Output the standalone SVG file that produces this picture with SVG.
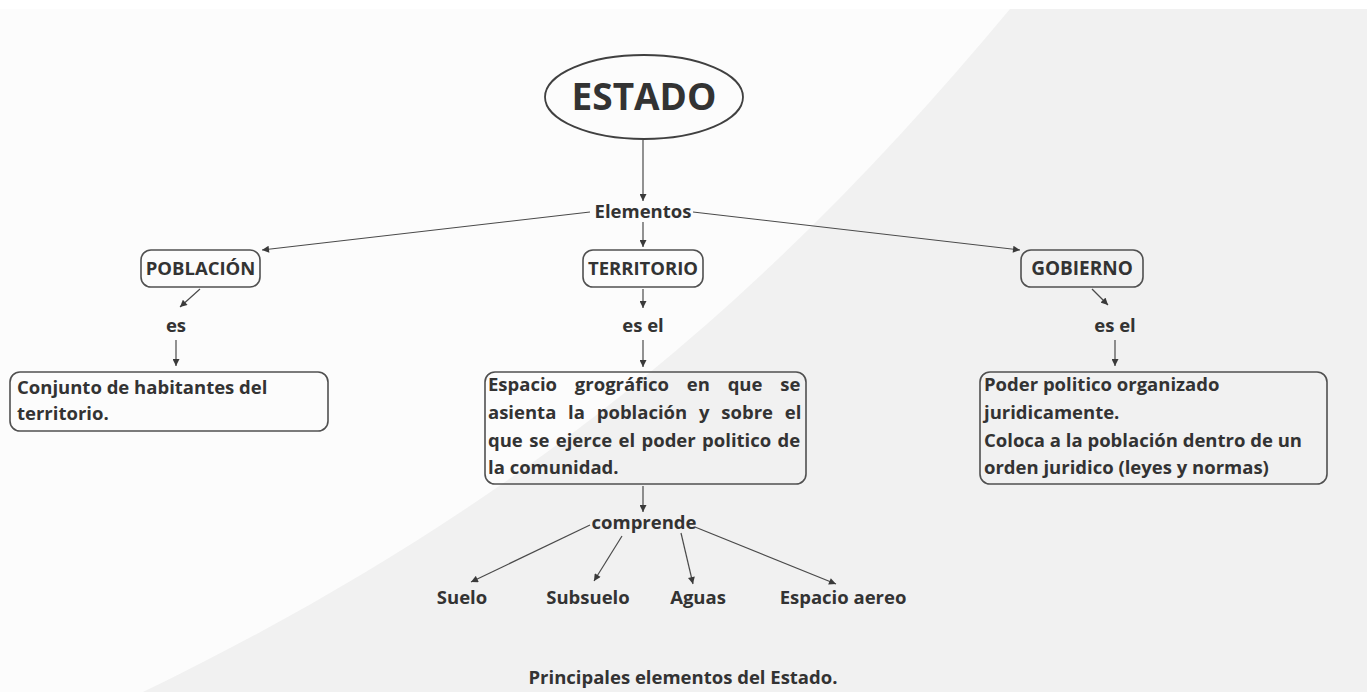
<svg xmlns="http://www.w3.org/2000/svg" width="1367" height="692" viewBox="0 0 1367 692">
<style>
.t{font-family:"Open Sans","Liberation Sans",sans-serif;font-weight:700;fill:#333}
.c{text-anchor:middle}
.lb{font-size:18.5px}
.bx{font-size:18.5px}
.box{fill:none;stroke:#505050;stroke-width:1.6}
.ln{fill:none;stroke:#4a4a4a;stroke-width:1.2;marker-end:url(#ah)}
</style>
<defs>
<marker id="ah" viewBox="0 0 10 10" refX="10" refY="5" markerWidth="8" markerHeight="7" markerUnits="userSpaceOnUse" orient="auto">
<path d="M0,0 L10,5 L0,10 z" fill="#3a3a3a"/>
</marker>
</defs>
<rect width="1367" height="692" fill="#f1f1f1"/>
<path d="M0,9 L1010,9 C800,260 560,490 143,692 L0,692 z" fill="#fcfcfc"/>
<rect width="1367" height="9" fill="#ffffff"/>

<g id="connectors">
<line class="ln" x1="643" y1="140" x2="643" y2="201"/>
<line class="ln" x1="590" y1="212" x2="262" y2="250"/>
<line class="ln" x1="643" y1="222" x2="643" y2="247"/>
<line class="ln" x1="693" y1="212" x2="1020" y2="250"/>
<line class="ln" x1="200" y1="289" x2="180" y2="307"/>
<line class="ln" x1="176" y1="340" x2="176" y2="366"/>
<line class="ln" x1="643" y1="289" x2="643" y2="308"/>
<line class="ln" x1="643" y1="340" x2="643" y2="367"/>
<line class="ln" x1="1092" y1="289" x2="1108" y2="305"/>
<line class="ln" x1="1115" y1="340" x2="1115" y2="366"/>
<line class="ln" x1="643" y1="486" x2="643" y2="512"/>
<line class="ln" x1="590" y1="525" x2="471" y2="582"/>
<line class="ln" x1="622" y1="536" x2="594" y2="581"/>
<line class="ln" x1="681" y1="533" x2="693" y2="584"/>
<line class="ln" x1="695" y1="527" x2="836" y2="584"/>
</g>

<g id="estado">
<ellipse cx="644" cy="97" rx="99" ry="42" fill="none" stroke="#404040" stroke-width="1.8"/>
<text class="t c" x="644" y="110" font-size="37">ESTADO</text>
</g>
<g id="elementos"><text class="t c lb" x="643" y="218">Elementos</text></g>

<g id="poblacion">
<rect class="box" x="141" y="250" width="119" height="37" rx="10"/>
<text class="t c lb" x="200.5" y="275">POBLACIÓN</text>
</g>
<g id="territorio">
<rect class="box" x="583" y="250" width="120" height="37" rx="10"/>
<text class="t c lb" x="643" y="275">TERRITORIO</text>
</g>
<g id="gobierno">
<rect class="box" x="1021" y="250" width="122" height="37" rx="10"/>
<text class="t c" x="1082" y="275" font-size="19">GOBIERNO</text>
</g>

<g id="lbl-es"><text class="t c lb" x="176" y="332">es</text></g>
<g id="lbl-esel1"><text class="t c lb" x="643" y="332">es el</text></g>
<g id="lbl-esel2"><text class="t c lb" x="1115" y="332">es el</text></g>

<g id="conjunto">
<rect class="box" x="10" y="372" width="318" height="59" rx="10"/>
<text class="t bx" x="17" y="394">Conjunto de habitantes del</text>
<text class="t bx" x="17" y="420">territorio.</text>
</g>

<g id="espacio">
<rect class="box" x="485" y="372" width="321" height="112" rx="10"/>
<text class="t bx" x="488" y="391" word-spacing="13">Espacio grográfico en que se</text>
<text class="t bx" x="488" y="419" word-spacing="7">asienta la población y sobre el</text>
<text class="t bx" x="488" y="447" word-spacing="1.6">que se ejerce el poder politico de</text>
<text class="t bx" x="488" y="474">la comunidad.</text>
</g>

<g id="poder">
<rect class="box" x="980" y="372" width="347" height="112" rx="10"/>
<text class="t bx" x="984" y="391">Poder politico organizado</text>
<text class="t bx" x="984" y="419">juridicamente.</text>
<text class="t bx" x="984" y="447">Coloca a la población dentro de un</text>
<text class="t bx" x="984" y="474">orden juridico (leyes y normas)</text>
</g>

<g id="comprende"><text class="t c lb" x="644" y="529">comprende</text></g>
<g id="suelo"><text class="t c lb" x="462" y="604">Suelo</text></g>
<g id="subsuelo"><text class="t c lb" x="588" y="604">Subsuelo</text></g>
<g id="aguas"><text class="t c lb" x="698" y="604">Aguas</text></g>
<g id="aereo"><text class="t c lb" x="843" y="604">Espacio aereo</text></g>

<g id="caption"><text class="t c" x="683" y="684" font-size="18.5">Principales elementos del Estado.</text></g>
</svg>
